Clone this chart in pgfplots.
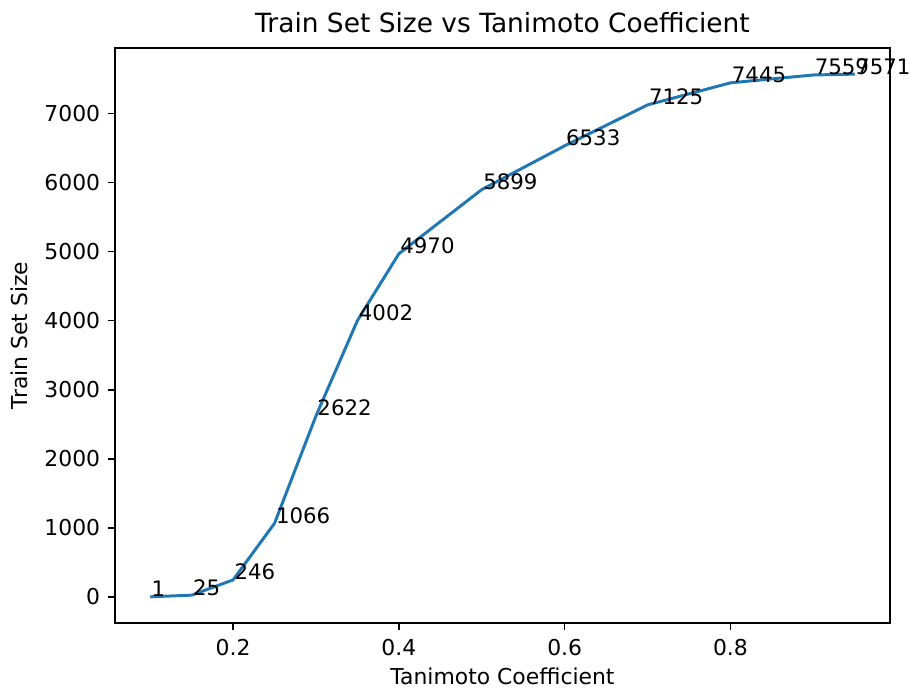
\documentclass[border=0pt]{standalone}
\usepackage{pgfplots}
\pgfplotsset{compat=1.18}
\usepackage{fontspec}
\setmainfont{DejaVu Sans}
\definecolor{mplblue}{HTML}{1F77B4}
\begin{document}
\begin{tikzpicture}
\begin{axis}[
  at={(0,0)}, anchor=south west,
  scale only axis,
  width=392.96pt, height=291.55pt,
  xmin=0.0575, xmax=0.9925,
  ymin=-378.55, ymax=7949.55,
  xtick={0.2,0.4,0.6,0.8},
  ytick={0,1000,2000,3000,4000,5000,6000,7000},
  axis line style={line width=0.8pt},
  tick style={line width=0.8pt, black},
  major tick length=3.5pt,
  tick align=outside,
  xtick pos=bottom, ytick pos=left,
  /pgf/number format/assume math mode=true,
  /pgf/number format/1000 sep={},
  /pgf/number format/fixed,
  tick label style={font=\fontsize{11.1}{13}\selectfont},
  xticklabel style={yshift=-1pt},
  yticklabel style={xshift=-0.5pt},
  label style={font=\fontsize{11.1}{13}\selectfont},
  xlabel={Tanimoto Coefficient},
  ylabel={Train Set Size},
  xlabel style={yshift=0.5pt},
  ylabel style={yshift=1.5pt},
  title={Train Set Size vs Tanimoto Coefficient},
  title style={font=\fontsize{13.4}{16}\selectfont, yshift=-2pt},
  clip=false,
  nodes near coords,
  point meta=y,
  nodes near coords style={anchor=base west, inner sep=0pt, font=\fontsize{10.8}{13}\selectfont, text=black,
    /pgf/number format/fixed, /pgf/number format/precision=0, /pgf/number format/1000 sep={}},
]
\addplot[color=mplblue, line width=1.5pt] coordinates {
  (0.10,1) (0.15,25) (0.20,246) (0.25,1066) (0.30,2622) (0.35,4002)
  (0.40,4970) (0.50,5899) (0.60,6533) (0.70,7125) (0.80,7445)
  (0.90,7559) (0.95,7571)
};
\end{axis}
\pgfresetboundingbox
\path[use as bounding box] (-58.31pt,-33.46pt) rectangle (403.1pt,315.9pt);
\end{tikzpicture}
\end{document}
